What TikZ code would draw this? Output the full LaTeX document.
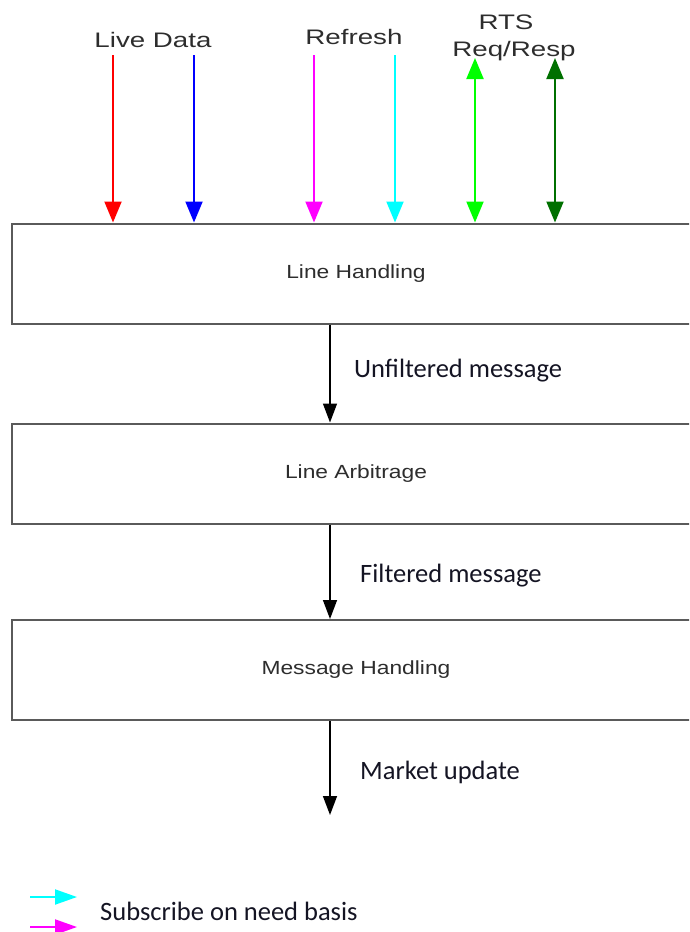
\documentclass[tikz,border=0pt]{standalone}
\usepackage{fontspec}
\usepackage{graphicx}
\usetikzlibrary{arrows.meta}
\newfontfamily\arialf{Liberation Sans}
\newfontfamily\calib{Carlito}
\newcommand{\widetxt}[1]{\scalebox{1.32}[1]{#1}}
\newcommand{\boxtxt}[1]{\scalebox{1.2}[1]{#1}}
\definecolor{dkgreen}{RGB}{0,112,0}
\definecolor{brgreen}{RGB}{0,255,0}
\definecolor{pmagenta}{RGB}{255,0,255}
\definecolor{pcyan}{RGB}{0,255,255}
\definecolor{pred}{RGB}{255,0,0}
\definecolor{pblue}{RGB}{0,0,255}
\definecolor{boxline}{RGB}{90,90,90}
\definecolor{txtgray}{RGB}{45,45,45}
\definecolor{txtdark}{RGB}{20,20,35}
\tikzset{
  blockbox/.style={draw=boxline, line width=2pt, fill=white, minimum width=688pt, minimum height=100pt, inner sep=0pt, font=\arialf\fontsize{19}{22}\selectfont, text=txtgray},
  toplabel/.style={font=\arialf\fontsize{21}{24}\selectfont, text=txtgray, inner sep=0pt},
  msglabel/.style={font=\calib\fontsize{26.5}{30}\selectfont, text=txtdark, anchor=west, inner sep=0pt},
  inarrow/.style={line width=2pt, -{Triangle[width=17pt,length=21pt]}},
  duoarrow/.style={line width=2pt, {Triangle[width=17pt,length=21pt]}-{Triangle[width=17pt,length=21pt]}},
  flowarrow/.style={line width=1.4pt, black, -{Triangle[width=14pt,length=19pt]}},
  legarrow/.style={line width=2pt, -{Triangle[width=15pt,length=22pt]}}
}
\begin{document}
\begin{tikzpicture}[x=1pt,y=-1pt]
\useasboundingbox (0,0) rectangle (689,932);
\clip (0,0) rectangle (689,932);

% blocks
\node[blockbox] (lh) at (356,273.5) {\boxtxt{Line Handling}};
\node[blockbox] (la) at (356,473.5) {\boxtxt{Line Arbitrage}};
\node[blockbox] (mh) at (356,670) {\boxtxt{Message Handling}};

% column coordinates for top arrows
\coordinate (cr) at (113,55);
\coordinate (cb) at (194,55);
\coordinate (cm) at (314,55);
\coordinate (cc) at (395,55);
\coordinate (cg) at (475,58);
\coordinate (cd) at (555,58);
\coordinate (cx) at (330,0);
\coordinate (mend) at (330,815);

% top labels
\node[toplabel] (lbl1) at (153,40) {\widetxt{Live Data}};
\node[toplabel] (lbl2) at (354,37) {\widetxt{Refresh}};
\node[toplabel] (lbl3) at (506,22) {\widetxt{RTS}};
\node[toplabel] (lbl4) at (514,51) {\widetxt{Req/Resp}};

% top arrows
\draw[inarrow, pred]     (cr) -- (cr |- lh.north);
\draw[inarrow, pblue]    (cb) -- (cb |- lh.north);
\draw[inarrow, pmagenta] (cm) -- (cm |- lh.north);
\draw[inarrow, pcyan]    (cc) -- (cc |- lh.north);
\draw[duoarrow, brgreen] (cg) -- (cg |- lh.north);
\draw[duoarrow, dkgreen] (cd) -- (cd |- lh.north);

% flow arrows
\draw[flowarrow] (lh.south -| cx) -- (la.north -| cx);
\draw[flowarrow] (la.south -| cx) -- (mh.north -| cx);
\draw[flowarrow] (mh.south -| cx) -- (mend);

\node[msglabel] (m1) at (354,371) {Unfiltered message};
\node[msglabel] (m2) at (360,576) {Filtered message};
\node[msglabel] (m3) at (360,772) {Market update};

% legend
\coordinate (l1a) at (30,897);
\coordinate (l1b) at (77,897);
\coordinate (l2a) at (30,927);
\coordinate (l2b) at (77,927);
\draw[legarrow, pcyan] (l1a) -- (l1b);
\draw[legarrow, pmagenta] (l2a) -- (l2b);
\node[msglabel] (leg) at (100,911) {Subscribe on need basis};
\end{tikzpicture}
\end{document}
